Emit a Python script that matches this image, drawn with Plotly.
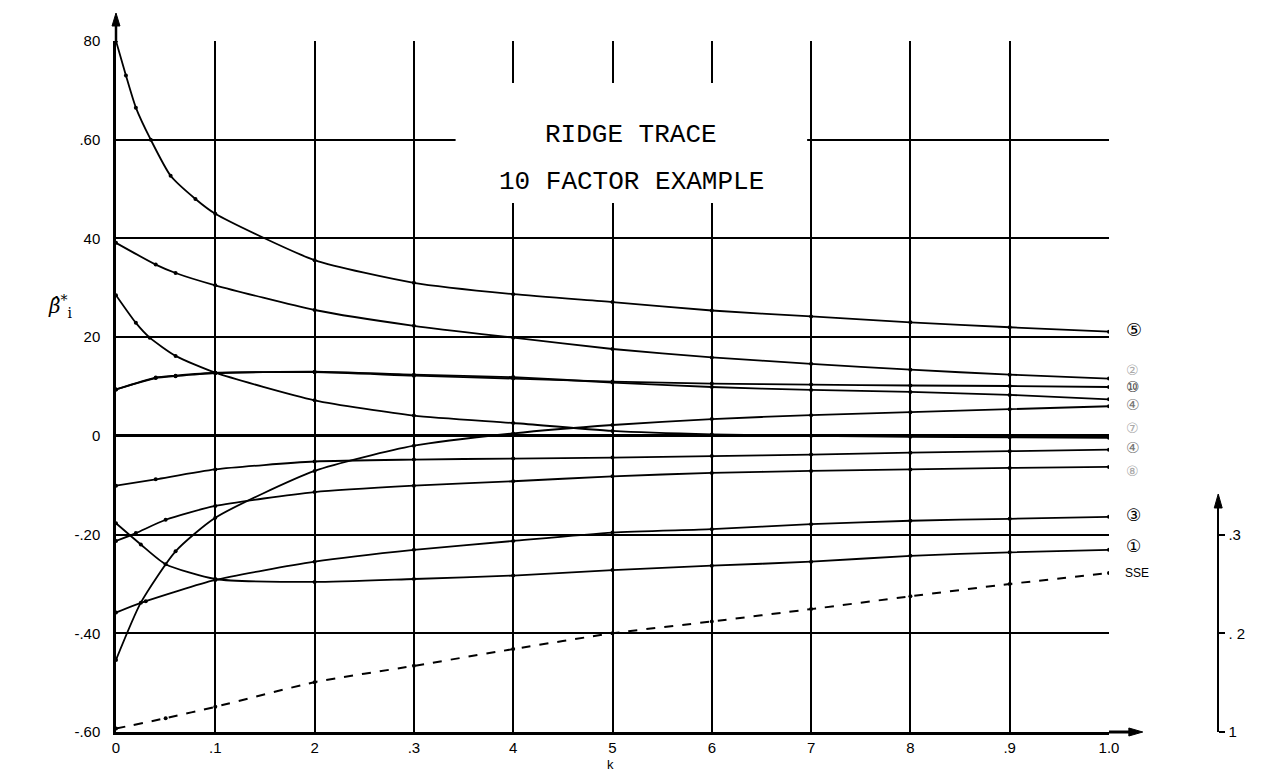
import plotly.graph_objects as go

# ---------------- data ----------------
K_GRID = [0.0, 0.1, 0.2, 0.3, 0.4, 0.5, 0.6, 0.7, 0.8, 0.9, 1.0]

c1_k = [0.0, 0.01, 0.02, 0.035, 0.055, 0.08] + K_GRID[1:]
c1_b = [0.80, 0.73, 0.665, 0.60, 0.527, 0.48, 0.450, 0.356, 0.310, 0.287, 0.271, 0.254, 0.242, 0.230, 0.220, 0.211]

c2_k = [0.0, 0.04, 0.06] + K_GRID[1:]
c2_b = [0.391, 0.347, 0.330, 0.305, 0.255, 0.223, 0.199, 0.176, 0.159, 0.146, 0.134, 0.124, 0.116]

c3_k = [0.0, 0.02, 0.034, 0.06] + K_GRID[1:]
c3_b = [0.285, 0.229, 0.199, 0.162, 0.128, 0.072, 0.041, 0.026, 0.010, 0.003, 0.0, -0.002, -0.003, -0.004]

c4_k = [0.0, 0.04, 0.06] + K_GRID[1:]
c4_b = [0.094, 0.118, 0.122, 0.128, 0.129, 0.122, 0.116, 0.110, 0.106, 0.104, 0.102, 0.101, 0.099]

c5_k = [0.0, 0.04] + K_GRID[1:]
c5_b = [-0.101, -0.088, -0.068, -0.052, -0.048, -0.046, -0.044, -0.041, -0.038, -0.034, -0.031, -0.028]

c6_k = [0.0, 0.02, 0.05] + K_GRID[1:]
c6_b = [-0.213, -0.197, -0.170, -0.142, -0.114, -0.101, -0.092, -0.082, -0.075, -0.071, -0.068, -0.065, -0.063]

c7_k = [0.0, 0.03] + K_GRID[1:]
c7_b = [-0.358, -0.335, -0.292, -0.255, -0.231, -0.213, -0.196, -0.189, -0.179, -0.172, -0.168, -0.164]

c8_k = [0.0, 0.025, 0.05] + K_GRID[1:]
c8_b = [-0.177, -0.220, -0.260, -0.290, -0.296, -0.290, -0.283, -0.272, -0.263, -0.255, -0.243, -0.236, -0.231]

c9_k = [0.0, 0.025, 0.06] + K_GRID[1:]
c9_b = [-0.454, -0.338, -0.234, -0.166, -0.071, -0.020, 0.005, 0.022, 0.034, 0.042, 0.048, 0.054, 0.060]

c10_k = [0.0, 0.04, 0.06] + K_GRID[1:]
c10_b = [0.094, 0.117, 0.121, 0.127, 0.130, 0.124, 0.119, 0.108, 0.099, 0.093, 0.089, 0.083, 0.074]

sse_k = [0.0, 0.05] + K_GRID[1:]
sse_v = [0.1035, 0.114, 0.1255, 0.1505, 0.167, 0.184, 0.200, 0.212, 0.2245, 0.2375, 0.250, 0.261]

curves = [(c1_k, c1_b), (c2_k, c2_b), (c3_k, c3_b), (c4_k, c4_b), (c5_k, c5_b),
          (c6_k, c6_b), (c7_k, c7_b), (c8_k, c8_b), (c9_k, c9_b), (c10_k, c10_b)]

x_tickvals = K_GRID
x_ticktext = ["0", ".1", "2", ".3", "4", "5", "6", "7", "8", ".9", "1.0"]
y_tickvals = [0.8, 0.6, 0.4, 0.2, 0.0, -0.2, -0.4, -0.6]
y_ticktext = ["80", ".60", "40", "20", "0", "-.20", "-.40", "-.60"]
y2_tickvals = [0.1, 0.2, 0.3]
y2_ticktext = ["1", ". 2", ".3"]

# end labels: (text, beta position, colour, size)
end_labels = [("⑤", 0.215, "#000", 18), ("②", 0.133, "#aaa", 14), ("⑩", 0.100, "#444", 15),
              ("④", 0.063, "#777", 15), ("⑦", 0.016, "#aaa", 14), ("④", -0.024, "#777", 15),
              ("⑧", -0.071, "#aaa", 14), ("③", -0.160, "#000", 17), ("①", -0.223, "#000", 17)]

# ---------------- figure ----------------
W, H = 1264, 771
L, R, T, B = 108, 14, 33, 47
plot_w = W - L - R
plot_h = H - T - B
x_dom_end = 1000 / plot_w

fig = go.Figure()
for ks, bs in curves:
    fig.add_trace(go.Scatter(
        x=ks, y=bs, mode="lines+markers",
        line=dict(color="black", width=1.8, shape="spline", smoothing=0.6),
        marker=dict(color="black", size=4),
        showlegend=False, hoverinfo="skip"))

fig.add_trace(go.Scatter(
    x=sse_k, y=sse_v, yaxis="y2", mode="lines+markers",
    line=dict(color="black", width=2, dash="dash", shape="spline", smoothing=0.6),
    marker=dict(color="black", size=4),
    showlegend=False, hoverinfo="skip"))

tick_font = dict(family="Liberation Sans, Arial, sans-serif", size=15, color="black")

fig.update_layout(
    width=W, height=H,
    margin=dict(l=L, r=R, t=T, b=B),
    paper_bgcolor="white", plot_bgcolor="rgba(0,0,0,0)",
    xaxis=dict(domain=[0, x_dom_end], range=[0, 1.0], tickvals=x_tickvals, ticktext=x_ticktext,
               showgrid=True, gridcolor="black", gridwidth=1.7, zeroline=False,
               showline=True, linecolor="black", linewidth=3, ticks="", tickfont=tick_font,
               ticklabelstandoff=0, anchor="y"),
    yaxis=dict(domain=[0, 1], range=[-0.6, 0.8], tickvals=y_tickvals, ticktext=y_ticktext,
               showgrid=True, gridcolor="black", gridwidth=1.7,
               zeroline=True, zerolinecolor="black", zerolinewidth=2.6,
               showline=True, linecolor="black", linewidth=2.5, ticks="", tickfont=tick_font,
               ticklabelstandoff=10, anchor="x"),
    yaxis2=dict(domain=[0, (724 - 497) / plot_h], range=[0.1, 0.1 + (724 - 497) / 987.0],
                anchor="free", position=(1218 - L) / plot_w, side="right",
                tickvals=y2_tickvals, ticktext=y2_ticktext,
                showgrid=False, zeroline=False, showline=True, linecolor="black", linewidth=2.4,
                ticks="outside", ticklen=6, tickwidth=1.5, tickcolor="black", tickfont=tick_font),
)

def px_x(px):
    return (px - L) / plot_w

def px_y(py):
    return (H - B - py) / plot_h

def tri(points):
    # triangle path in paper coordinates from pixel points
    p = [f"{px_x(x):.5f},{px_y(y):.5f}" for x, y in points]
    return f"M {p[0]} L {p[1]} L {p[2]} Z"

shapes = [
    # white title box interrupting grid
    dict(type="rect", xref="paper", yref="paper", x0=px_x(450), x1=px_x(804),
         y0=px_y(195), y1=px_y(75), fillcolor="white", line=dict(width=0), layer="above"),
    # y axis extension above .80
    dict(type="line", xref="paper", yref="paper", x0=0, x1=0, y0=1, y1=px_y(14),
         line=dict(color="black", width=2.5)),
    # x axis extension beyond 1.0
    dict(type="line", xref="paper", yref="paper", x0=x_dom_end, x1=px_x(1132), y0=0, y1=0,
         line=dict(color="black", width=3)),
    # arrow heads
    dict(type="path", xref="paper", yref="paper", path=tri([(108, 5), (104, 18), (112, 18)]),
         fillcolor="black", line=dict(color="black", width=1)),
    dict(type="path", xref="paper", yref="paper", path=tri([(1142, 724), (1128, 720), (1128, 728)]),
         fillcolor="black", line=dict(color="black", width=1)),
    dict(type="path", xref="paper", yref="paper", path=tri([(1218, 486), (1214, 500), (1222, 500)]),
         fillcolor="black", line=dict(color="black", width=1)),
]
fig.update_layout(shapes=shapes)

title_font = dict(family="Liberation Mono, Courier New, monospace", size=26, color="black")
ann = [
    dict(text="RIDGE TRACE", xref="paper", yref="paper", x=px_x(627), y=px_y(110),
         showarrow=False, font=title_font),
    dict(text="10 FACTOR EXAMPLE", xref="paper", yref="paper", x=px_x(627), y=px_y(157),
         showarrow=False, font=title_font),
    dict(text="<i>β̂</i><sup>*</sup><sub>i</sub>", xref="paper", yref="paper", x=px_x(38), y=px_y(298),
         showarrow=False, font=dict(family="DejaVu Serif, serif", size=20, color="black")),
    dict(text="k", xref="paper", yref="paper", x=px_x(606), y=px_y(766),
         showarrow=False, font=dict(family="Liberation Sans, sans-serif", size=13, color="black")),
    dict(text="SSE", xref="x", yref="y", x=1.0, y=-0.278, xanchor="left", xshift=14,
         showarrow=False, font=dict(family="Liberation Sans, sans-serif", size=12, color="black")),
]
for txt, yb, col, sz in end_labels:
    ann.append(dict(text=txt, xref="x", yref="y", x=1.0, y=yb, xanchor="left", xshift=15,
                    showarrow=False,
                    font=dict(family="DejaVu Sans, Noto Sans CJK JP, sans-serif", size=sz, color=col)))
fig.update_layout(annotations=ann)

fig.write_html("out.html")
